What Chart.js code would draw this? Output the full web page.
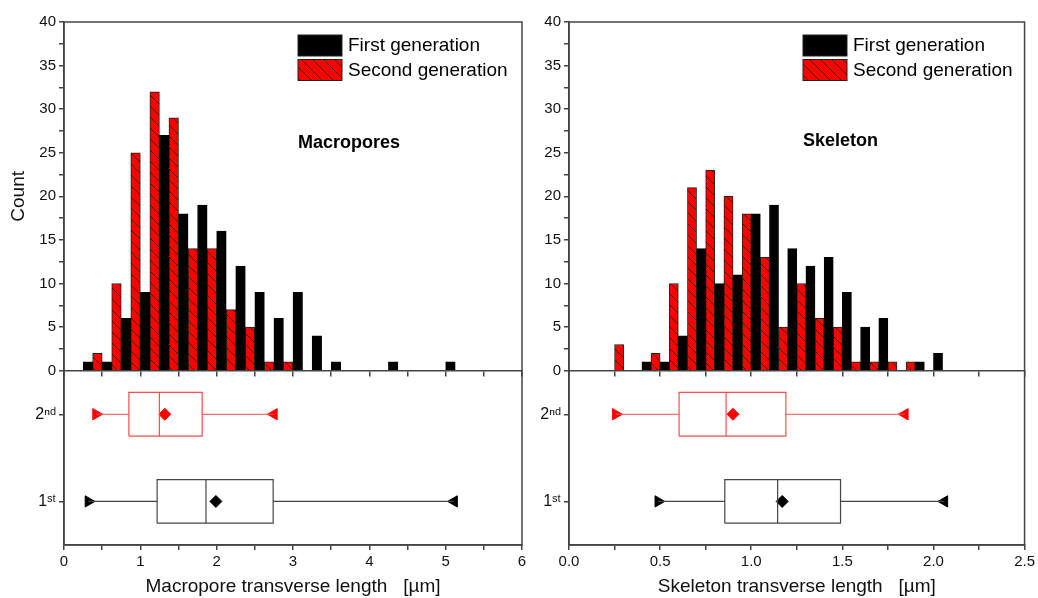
<!DOCTYPE html>
<html>
<head>
<meta charset="utf-8">
<script src="https://cdn.jsdelivr.net/npm/chart.js@4/dist/chart.umd.min.js"></script>
<style>
  body { margin: 0; background: #fff; }
  canvas { position: absolute; top: 0; }
  #macro { left: 0; }
  #skel { left: 530px; }
</style>
</head>
<body>
<canvas id="macro" width="530" height="598"></canvas>
<canvas id="skel" width="508" height="598"></canvas>
<script>
// histogram bins (bin centres, µm) and counts
const macroBins = [0.375, 0.625, 0.875, 1.125, 1.375, 1.625, 1.875, 2.125, 2.375, 2.625,
                   2.875, 3.125, 3.375, 3.625, 3.875, 4.125, 4.375, 4.625, 4.875, 5.125];
const macroFirst  = [1, 1, 6, 9, 27, 18, 19, 16, 12, 9, 6, 9, 4, 1, 0, 0, 1, 0, 0, 1];
const macroSecond = [2, 10, 25, 32, 29, 14, 14, 7, 5, 1, 1, 0, 0, 0, 0, 0, 0, 0, 0, 0];

const skelBins = [0.25, 0.35, 0.45, 0.55, 0.65, 0.75, 0.85, 0.95, 1.05, 1.15,
                  1.25, 1.35, 1.45, 1.55, 1.65, 1.75, 1.85, 1.95, 2.05];
const skelFirst  = [0, 0, 1, 1, 4, 14, 10, 11, 18, 19, 14, 12, 13, 9, 5, 6, 0, 1, 2];
const skelSecond = [3, 0, 2, 10, 21, 23, 20, 18, 13, 5, 10, 6, 5, 1, 1, 1, 1, 0, 0];

// box plot stats: [min, q1, median, mean, q3, max]
const macroBoxFirst  = [0.32, 1.22, 1.86, 1.99, 2.74, 5.11];
const macroBoxSecond = [0.42, 0.85, 1.25, 1.32, 1.81, 2.75];
const skelBoxFirst   = [0.49, 0.855, 1.145, 1.17, 1.49, 2.06];
const skelBoxSecond  = [0.257, 0.604, 0.862, 0.90, 1.19, 1.843];

const boxRows = ['1ˢᵗ', '2ⁿᵈ'];
const seriesNames = ['First generation', 'Second generation'];

const FONT = '"Liberation Sans", Arial, sans-serif';
const AXIS = '#444';

// rayado rojo de la segunda generación
function hatch() {
  const n = 11;
  const c = document.createElement('canvas');
  c.width = c.height = n;
  const g = c.getContext('2d');
  g.fillStyle = '#ff0000';
  g.fillRect(0, 0, n, n);
  g.strokeStyle = '#111';
  g.lineWidth = 0.8;
  g.beginPath();
  for (const k of [-n, 0, n]) { g.moveTo(k, 0); g.lineTo(k + n, n); }
  g.stroke();
  return g.createPattern(c, 'repeat');
}
const redHatch = hatch();

function boxDatasets(s, row, line, fill) {
  const [min, q1, med, mean, q3, max] = s;
  const h = 0.25;
  const common = {
    type: 'line', xAxisID: 'x', yAxisID: 'yb', borderColor: line, borderWidth: 1.2,
    pointRadius: 0, fill: false, tension: 0, spanGaps: false
  };
  return [
    { ...common, data: [{x: q1, y: row - h}, {x: q3, y: row - h}, {x: q3, y: row + h}, {x: q1, y: row + h}, {x: q1, y: row - h}] },
    { ...common, data: [{x: med, y: row - h}, {x: med, y: row + h}] },
    { ...common, data: [{x: min, y: row}, {x: q1, y: row}, {x: q1, y: null}, {x: q3, y: row}, {x: max, y: row}] },
    { ...common, showLine: false,
      data: [{x: min, y: row}, {x: mean, y: row}, {x: max, y: row}],
      pointStyle: ['triangle', 'rectRot', 'triangle'], pointRotation: [90, 0, 270],
      pointRadius: [6.5, 6, 6.5], pointBackgroundColor: fill, pointBorderColor: fill, pointBorderWidth: 1 }
  ];
}

const overlay = {
  id: 'overlay',
  afterDraw(chart, args, opts) {
    const { ctx, chartArea: a } = chart;
    ctx.save();
    ctx.strokeStyle = AXIS;
    ctx.lineWidth = 1.5;
    ctx.strokeRect(a.left, a.top, a.right - a.left, a.bottom - a.top);
    ctx.textBaseline = 'middle';
    chart.data.datasets.slice(0, 2).forEach((ds, i) => {
      const y = opts.legendY + i * 24.5;
      ctx.fillStyle = ds.backgroundColor;
      ctx.fillRect(opts.legendX, y, 44, 21);
      ctx.strokeStyle = '#222';
      ctx.lineWidth = 1;
      ctx.strokeRect(opts.legendX, y, 44, 21);
      ctx.fillStyle = '#000';
      ctx.font = '19px ' + FONT;
      ctx.fillText(ds.label, opts.legendX + 50, y + 11);
    });
    ctx.font = 'bold 18px ' + FONT;
    ctx.fillText(opts.title, opts.legendX, opts.titleY);
    ctx.restore();
  }
};

function makeChart(id, o) {
  const isMajor = v => Math.abs(v / o.major - Math.round(v / o.major)) < 1e-6;
  const xCommon = {
    type: 'linear', min: 0, max: o.xMax, offset: false,
    grid: { drawOnChartArea: false, offset: false, tickLength: 5, color: AXIS, lineWidth: 1.5 },
    border: { color: AXIS, width: 1.5 }
  };
  return new Chart(document.getElementById(id), {
    type: 'bar',
    data: {
      datasets: [
        { label: seriesNames[0], xAxisID: 'x', yAxisID: 'y', backgroundColor: '#000', borderColor: '#000', borderWidth: 1,
          data: o.bins.map((x, i) => ({ x, y: o.first[i] })) },
        { label: seriesNames[1], xAxisID: 'x', yAxisID: 'y', backgroundColor: redHatch, borderColor: '#222', borderWidth: 1,
          data: o.bins.map((x, i) => ({ x, y: o.second[i] })) },
        ...boxDatasets(o.boxSecond, 2, '#ff4c4c', '#ff0000'),
        ...boxDatasets(o.boxFirst, 1, '#444', '#000')
      ]
    },
    options: {
      responsive: false,
      animation: false,
      layout: { padding: { top: 22, right: o.padRight, left: 0, bottom: 0 } },
      datasets: { bar: { barPercentage: 1, categoryPercentage: 1 } },
      plugins: {
        legend: { display: false },
        tooltip: { enabled: false },
        overlay: { legendX: o.legendX, legendY: 35, title: o.title, titleY: o.titleY }
      },
      scales: {
        x: {
          ...xCommon,
          position: 'bottom',
          ticks: {
            stepSize: o.major / 2, autoSkip: false, maxRotation: 0, color: '#111', padding: 3,
            font: { family: FONT, size: 15 },
            callback: v => isMajor(v) ? v.toFixed(o.decimals) : ''
          },
          title: { display: true, text: o.xTitle, color: '#111', font: { family: FONT, size: 19 }, padding: { top: 0, bottom: 0 } },
          afterFit: s => { s.height = 53; }
        },
        x2: {
          ...xCommon,
          position: { y: 0 },
          ticks: { stepSize: o.major / 2, autoSkip: false, display: false }
        },
        y: {
          type: 'linear', position: 'left', stack: 'panel', stackWeight: 2, weight: 1,
          min: 0, max: 40,
          grid: { drawOnChartArea: false, tickLength: 5, color: AXIS, lineWidth: 1.5 },
          border: { color: AXIS, width: 1.5 },
          ticks: {
            stepSize: 2.5, autoSkip: false, color: '#111', padding: 3,
            font: { family: FONT, size: 15 },
            callback: v => v % 5 === 0 ? v : ''
          },
          title: { display: o.yTitle !== '', text: o.yTitle, color: '#111', font: { family: FONT, size: 19 }, padding: { top: 7, bottom: 0 } },
          afterFit: s => { s.width = o.yWidth; }
        },
        yb: {
          type: 'linear', position: 'left', stack: 'panel', stackWeight: 1, weight: 0,
          min: 0.5, max: 2.5, beginAtZero: false,
          grid: { drawOnChartArea: false, tickLength: 5, color: AXIS, lineWidth: 1.5 },
          border: { color: AXIS, width: 1.5 },
          afterBuildTicks: s => { s.ticks = boxRows.map((_, i) => ({ value: i + 1 })); },
          ticks: {
            color: '#111', padding: 3, font: { family: FONT, size: 16 },
            callback: v => boxRows[Math.round(v) - 1] || ''
          },
          afterFit: s => { s.width = o.yWidth; }
        }
      }
    },
    plugins: [overlay]
  });
}

makeChart('macro', {
  bins: macroBins, first: macroFirst, second: macroSecond,
  boxFirst: macroBoxFirst, boxSecond: macroBoxSecond,
  xMax: 6, major: 1, decimals: 0, yWidth: 64, padRight: 8,
  xTitle: 'Macropore transverse length   [µm]', yTitle: 'Count',
  legendX: 298, title: 'Macropores', titleY: 143
});

makeChart('skel', {
  bins: skelBins, first: skelFirst, second: skelSecond,
  boxFirst: skelBoxFirst, boxSecond: skelBoxSecond,
  xMax: 2.5, major: 0.5, decimals: 1, yWidth: 39, padRight: 12,
  xTitle: 'Skeleton transverse length   [µm]', yTitle: '',
  legendX: 273, title: 'Skeleton', titleY: 141
});
</script>
</body>
</html>
